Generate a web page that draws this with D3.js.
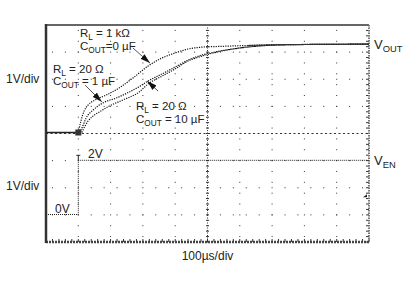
<!DOCTYPE html>
<html>
<head>
<meta charset="utf-8">
<script src="https://cdn.jsdelivr.net/npm/d3@7"></script>
<style>
  body { margin: 0; background: #fff; }
  svg text { font-family: "Liberation Sans", Arial, sans-serif; fill: #222; }
</style>
</head>
<body>
<svg id="chart" width="406" height="287"></svg>
<script>
// time in µs, voltage in V
const vout1k = [[0,0],[100,0],[108,0.42],[118,0.79],[130,1.01],[152,1.20],[186,1.38],[226,1.64],[269,2.01],[316,2.45],[359,2.75],[399,2.93],[440,3.08],[483,3.15],[523,3.17],[622,3.21],[724,3.24],[1000,3.26]];
const vout1u = [[0,0],[105,0],[115,0.27],[124,0.53],[146,0.83],[176,1.09],[217,1.27],[257,1.49],[291,1.71],[316,1.90],[359,2.16],[399,2.41],[440,2.67],[483,2.86],[523,2.97],[601,3.12],[656,3.19],[755,3.24],[1000,3.26]];
const vout10u = [[0,0],[111,0],[121,0.24],[130,0.42],[142,0.57],[164,0.75],[195,0.97],[238,1.20],[288,1.49],[316,1.79],[359,2.08],[399,2.34],[440,2.64],[483,2.82],[523,2.95],[601,3.12],[656,3.19],[755,3.24],[1000,3.26]];
const ven = [[0,0],[100,0],[100,2],[1000,2]];

const xDivs = 10, yDivs = 8;
const sideLabels = ["1V/div", "1V/div"];
const timeLabel = "100µs/div";

// annotation: tail and tip in data units (t, V on VOUT channel)
const arrows = [
  { tail: [269, 3.12], tip: [322, 2.56] },
  { tail: [121, 1.75], tip: [173, 1.13] },
  { tail: [347, 1.53], tip: [313, 1.90] }
];

const svg = d3.select("#chart");
const pLeft = 46, pRight = 369, pTop = 25, pBottom = 242;

const x = d3.scaleLinear().domain([0, 1000]).range([pLeft, pRight]);
const gx = d3.scaleLinear().domain([0, xDivs]).range([pLeft, pRight]);
const gy = d3.scaleLinear().domain([0, yDivs]).range([pTop, pBottom]);
const yOut = d3.scaleLinear().domain([0, 1]).range([132.5, 132.5 - 27.1]);
const yEn = d3.scaleLinear().domain([0, 1]).range([214.5, 214.5 - 27.1]);

const minorX = (pRight - pLeft) / xDivs / 5;
const minorY = (pBottom - pTop) / yDivs / 5;

// graticule dotted lines
const grid = svg.append("g").attr("stroke", "#333").attr("stroke-width", 1);
d3.range(1, xDivs).filter(i => i !== 5).forEach(i => {
  grid.append("line")
    .attr("x1", gx(i)).attr("x2", gx(i)).attr("y1", pTop).attr("y2", pBottom)
    .attr("stroke-dasharray", `1,${minorY * 2 - 1}`).attr("stroke-dashoffset", -minorY + 0.5);
});
d3.range(1, yDivs).filter(i => i !== 4).forEach(i => {
  grid.append("line")
    .attr("x1", pLeft).attr("x2", pRight).attr("y1", gy(i)).attr("y2", gy(i))
    .attr("stroke-dasharray", `1,${minorX * 2 - 1}`).attr("stroke-dashoffset", -minorX + 0.5);
});
// center axes with ticks
grid.append("line").attr("x1", gx(5)).attr("x2", gx(5)).attr("y1", pTop).attr("y2", pBottom)
  .attr("stroke-dasharray", "1,1.5");
grid.append("line").attr("x1", pLeft).attr("x2", pRight).attr("y1", gy(4)).attr("y2", gy(4))
  .attr("stroke-dasharray", "2,2.5");
d3.range(0, yDivs * 5 + 1).forEach(i => {
  const yy = pTop + i * minorY;
  grid.append("line").attr("x1", gx(5) - 1.5).attr("x2", gx(5) + 1.5).attr("y1", yy).attr("y2", yy);
  grid.append("line").attr("x1", pRight - 3).attr("x2", pRight).attr("y1", yy).attr("y2", yy);
});
d3.range(0, xDivs * 5 + 1).forEach(i => {
  const xx = pLeft + i * minorX;
  grid.append("line").attr("x1", xx).attr("x2", xx).attr("y1", pBottom - 3).attr("y2", pBottom);
});

// frame
svg.append("line").attr("x1", pLeft).attr("x2", pRight).attr("y1", pTop).attr("y2", pTop)
  .attr("stroke", "#666").attr("stroke-width", 2);
svg.append("line").attr("x1", pRight).attr("x2", pRight).attr("y1", pTop).attr("y2", pBottom)
  .attr("stroke", "#777").attr("stroke-width", 2).attr("stroke-dasharray", "1.5,1");
svg.append("line").attr("x1", pLeft).attr("x2", pRight).attr("y1", pBottom).attr("y2", pBottom)
  .attr("stroke", "#444").attr("stroke-width", 2.5).attr("stroke-dasharray", "2,1");
svg.append("line").attr("x1", pLeft).attr("x2", pLeft).attr("y1", pTop - 1).attr("y2", pBottom + 1)
  .attr("stroke", "#333").attr("stroke-width", 2.5);

// traces
const lineOut = d3.line().x(d => x(d[0])).y(d => yOut(d[1])).curve(d3.curveMonotoneX);
const lineEn = d3.line().x(d => x(d[0])).y(d => yEn(d[1]));

[vout10u, vout1u, vout1k].forEach(s => {
  svg.append("path").datum(s.filter(d => d[0] >= 90))
    .attr("d", lineOut).attr("fill", "none")
    .attr("stroke", "#111").attr("stroke-width", 1.2).attr("stroke-dasharray", "1.2,1.2");
});
svg.append("path").datum(vout1k.filter(d => d[0] <= 100))
  .attr("d", lineOut).attr("fill", "none").attr("stroke", "#222").attr("stroke-width", 1.3);
svg.append("path").datum(vout1k.filter(d => d[0] >= 620))
  .attr("d", lineOut).attr("fill", "none").attr("stroke", "#333").attr("stroke-width", 1);

svg.append("path").datum(ven).attr("d", lineEn).attr("fill", "none")
  .attr("stroke", "#222").attr("stroke-width", 1).attr("stroke-dasharray", "1,1");

// channel / trigger markers
svg.append("rect").attr("x", x(100) - 3).attr("y", yOut(0) - 3).attr("width", 6).attr("height", 6)
  .attr("fill", "#333");
svg.append("path")
  .attr("d", `M${x(100) - 2},${yEn(2) - 5}h4M${x(100)},${yEn(2) - 5}v5`)
  .attr("stroke", "#222").attr("stroke-width", 1);
svg.append("path")
  .attr("d", `M${pRight - 2},${gy(6.35) - 3}l-4,3h4z`)
  .attr("fill", "#222");

// arrows
svg.append("defs").append("marker")
  .attr("id", "head").attr("viewBox", "0 0 10 6").attr("refX", 10).attr("refY", 3)
  .attr("markerWidth", 10).attr("markerHeight", 6).attr("markerUnits", "userSpaceOnUse")
  .attr("orient", "auto")
  .append("path").attr("d", "M0,0L10,3L0,6z").attr("fill", "#111");
arrows.forEach(a => {
  svg.append("line")
    .attr("x1", x(a.tail[0])).attr("y1", yOut(a.tail[1]))
    .attr("x2", x(a.tip[0])).attr("y2", yOut(a.tip[1]))
    .attr("stroke", "#444").attr("stroke-width", 0.9).attr("marker-end", "url(#head)");
});

// text with subscripts: [main, sub, rest]
function label(px, py, parts, size) {
  const t = svg.append("text").attr("x", px).attr("y", py).style("font-size", size + "px");
  t.append("tspan").text(parts[0]);
  t.append("tspan").attr("dy", 3).style("font-size", (size * 0.72) + "px").text(parts[1]);
  if (parts[2]) t.append("tspan").attr("dy", -3).text(parts[2]);
  return t;
}

label(80, 37, ["R", "L", " = 1 kΩ"], 11.5);
label(80, 50, ["C", "OUT", "=0 µF"], 11.5);
label(53, 73, ["R", "L", " = 20 Ω"], 11.5);
label(53, 85, ["C", "OUT", " = 1 µF"], 11.5);
label(136, 110, ["R", "L", " = 20 Ω"], 11.5);
label(136, 123, ["C", "OUT", " = 10 µF"], 11.5);

label(374, 49, ["V", "OUT"], 13);
label(374, 165, ["V", "EN"], 13);

svg.append("text").attr("x", 88).attr("y", 158).style("font-size", "12px").text("2V");
svg.append("text").attr("x", 55).attr("y", 213).style("font-size", "12px").text("0V");

svg.append("text").attr("x", 6).attr("y", 83).style("font-size", "12px").text(sideLabels[0]);
svg.append("text").attr("x", 6).attr("y", 190).style("font-size", "12px").text(sideLabels[1]);
svg.append("text").attr("x", gx(5)).attr("y", 260).attr("text-anchor", "middle")
  .style("font-size", "12px").text(timeLabel);
</script>
</body>
</html>
